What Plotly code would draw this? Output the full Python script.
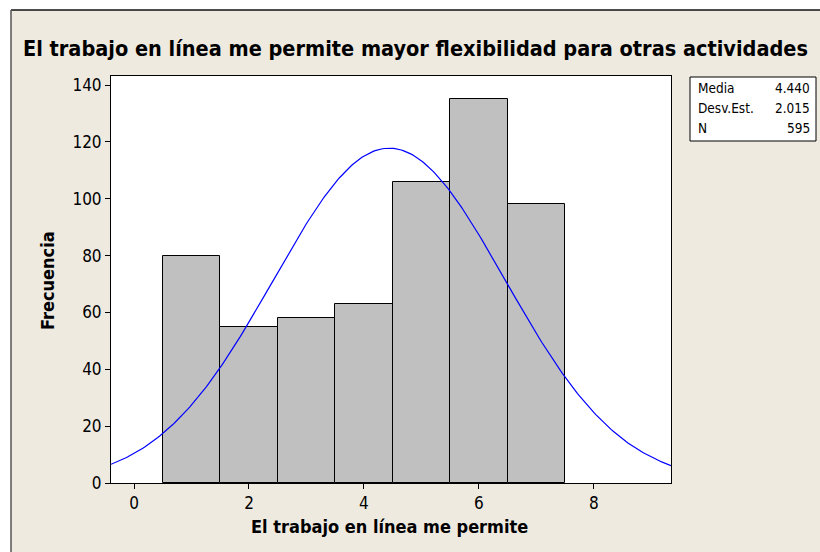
import numpy as np
import plotly.graph_objects as go

title = "El trabajo en línea me permite mayor flexibilidad para otras actividades"
x_label = "El trabajo en línea me permite"
y_label = "Frecuencia"
bin_centers = [1, 2, 3, 4, 5, 6, 7]
frequencies = [80, 55, 58, 63, 106, 135, 98]
x_ticks = [0, 2, 4, 6, 8]
y_ticks = [0, 20, 40, 60, 80, 100, 120, 140]
stat_names = ["Media", "Desv.Est.", "N"]
stat_values = ["4.440", "2.015", "595"]
mean, sd, n = 4.440, 2.015, 595

W, H = 820, 552
# plot area in page pixels
L, R, T, B = 111, 671, 76, 483
BEIGE = "#EEEAE0"
FONT = "DejaVu Sans Condensed, DejaVu Sans"

xr = [-0.4, 9.34]
yr = [0, 143.2]

xs = np.linspace(xr[0], xr[1], 300)
ys = n * 1.0 / (sd * np.sqrt(2 * np.pi)) * np.exp(-0.5 * ((xs - mean) / sd) ** 2)

fig = go.Figure()
fig.add_trace(go.Bar(x=bin_centers, y=frequencies, width=1,
                     marker=dict(color="#C0C0C0", line=dict(color="black", width=1)),
                     hoverinfo="skip"))
fig.add_trace(go.Scatter(x=xs, y=ys, mode="lines", line=dict(color="#0000FF", width=1.2),
                         hoverinfo="skip"))

pw, ph = R - L, B - T
def px(x):  # page x -> paper
    return (x - L) / pw
def py(y):  # page y -> paper
    return 1 - (y - T) / ph

shapes = [
    dict(type="rect", xref="paper", yref="paper", x0=px(-5), x1=px(W + 5), y0=py(-5), y1=py(10),
         fillcolor="white", line=dict(width=0), layer="above"),
    dict(type="rect", xref="paper", yref="paper", x0=px(-5), x1=px(11), y0=py(-5), y1=py(H + 5),
         fillcolor="white", line=dict(width=0), layer="above"),
    dict(type="line", xref="paper", yref="paper", x0=px(11), x1=px(W + 5), y0=py(10), y1=py(10),
         line=dict(color="#111", width=1.5), layer="above"),
    dict(type="line", xref="paper", yref="paper", x0=px(11), x1=px(11), y0=py(10), y1=py(H + 5),
         line=dict(color="#555", width=1.5), layer="above"),
    dict(type="rect", xref="paper", yref="paper", x0=px(690), x1=px(816), y0=py(77), y1=py(141),
         fillcolor="white", line=dict(color="black", width=1), layer="above"),
]

annotations = [
    dict(text="<b>" + title + "</b>", xref="paper", yref="paper", x=px(415), y=py(48),
         xanchor="center", yanchor="middle", showarrow=False,
         font=dict(family=FONT, size=21.5, color="black")),
    dict(text="<b>" + x_label + "</b>", xref="paper", yref="paper", x=px(389), y=py(526),
         xanchor="center", yanchor="middle", showarrow=False,
         font=dict(family=FONT, size=18, color="black")),
    dict(text="<b>" + y_label + "</b>", xref="paper", yref="paper", x=px(47), y=py(281),
         xanchor="center", yanchor="middle", showarrow=False, textangle=-90,
         font=dict(family=FONT, size=18, color="black")),
]
for i, (nm, val) in enumerate(zip(stat_names, stat_values)):
    yy = py(88.5 + i * 19.5)
    annotations.append(dict(text=nm, xref="paper", yref="paper", x=px(696), y=yy,
                            xanchor="left", yanchor="middle", showarrow=False,
                            font=dict(family=FONT, size=13.5, color="black")))
    annotations.append(dict(text=val, xref="paper", yref="paper", x=px(812), y=yy,
                            xanchor="right", yanchor="middle", showarrow=False,
                            font=dict(family=FONT, size=13.5, color="black")))

fig.update_layout(
    width=W, height=H,
    margin=dict(l=L, r=W - R, t=T, b=H - B, pad=0),
    paper_bgcolor=BEIGE, plot_bgcolor="white",
    showlegend=False, bargap=0,
    shapes=shapes, annotations=annotations,
    font=dict(family=FONT, color="black"),
)
fig.update_xaxes(range=xr, tickvals=x_ticks, ticks="outside", ticklen=5, tickcolor="black",
                 showline=True, linecolor="black", linewidth=1, mirror=True, showgrid=False,
                 zeroline=False, tickfont=dict(size=17), fixedrange=True)
fig.update_yaxes(range=yr, tickvals=y_ticks, ticks="outside", ticklen=5, tickcolor="black",
                 showline=True, linecolor="black", linewidth=1, mirror=True, showgrid=False,
                 zeroline=False, tickfont=dict(size=17), fixedrange=True)

fig.write_html("out.html", config={"displayModeBar": False},
               post_script="document.body.style.margin='0px';"
                           "document.documentElement.style.overflow='hidden';"
                           "document.body.style.overflow='hidden';")
